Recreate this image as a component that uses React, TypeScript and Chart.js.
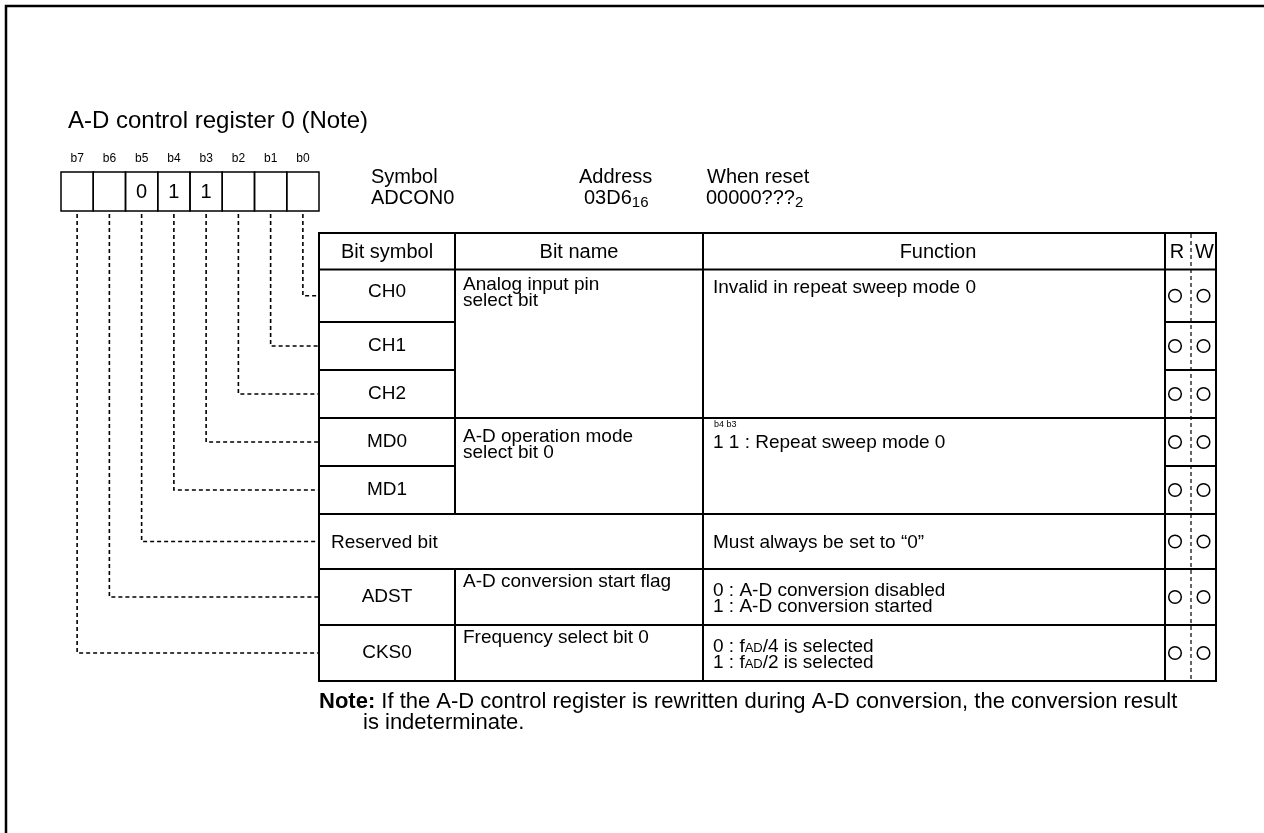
import React, { useEffect, useRef } from 'react';
import { Chart, registerables } from 'chart.js';

Chart.register(...registerables);

const W = 1264;
const H = 833;
const FONT = '"Liberation Sans", Arial, Helvetica, sans-serif';

// ---- data ----
const title = 'A-D control register 0 (Note)';
const bitLabels = ['b7', 'b6', 'b5', 'b4', 'b3', 'b2', 'b1', 'b0'];
const bitValues = ['', '', '0', '1', '1', '', '', ''];
const infoLabels = ['Symbol', 'Address', 'When reset'];
const infoValues = ['ADCON0', '03D6{16}', '00000???{2}'];
const headers = ['Bit symbol', 'Bit name', 'Function', 'R', 'W'];
const rowSymbols = ['CH0', 'CH1', 'CH2', 'MD0', 'MD1', 'Reserved bit', 'ADST', 'CKS0'];
const rowBox = [7, 6, 5, 4, 3, 2, 1, 0]; // which register box feeds each row
const readable = [1, 1, 1, 1, 1, 1, 1, 1];
const writable = [1, 1, 1, 1, 1, 1, 1, 1];
const nameGroups = [0, 0, 0, 1, 1, 2, 3, 4];
const funcGroups = [0, 0, 0, 1, 1, 2, 3, 4];
const bitNames = [
  ['Analog input pin', 'select bit'],
  ['A-D operation mode', 'select bit 0'],
  [],
  ['A-D conversion start flag'],
  ['Frequency select bit 0'],
];
const funcNotes = ['', 'b4 b3', '', '', ''];
const functions = [
  ['Invalid in repeat sweep mode 0'],
  ['1 1 : Repeat sweep mode 0'],
  ['Must always be set to \u201C0\u201D'],
  ['0 : A-D conversion disabled', '1 : A-D conversion started'],
  ['0 : f{AD}/4 is selected', '1 : f{AD}/2 is selected'],
];
const noteLabel = 'Note:';
const noteLines = ['If the A-D control register is rewritten during A-D conversion, the conversion result', 'is indeterminate.'];

// layout grid (in scale units)
const rowEdges = [233, 269.5, 322, 370, 418, 466, 514, 569, 625, 681];
const colEdges = [319, 455, 703, 1165, 1191, 1216];
const regX = [61, 319];
const regY = [172, 211];

const BODY = 19;
const GAP = 16;

const boxCenter = (i: number) => regX[0] + ((regX[1] - regX[0]) / 8) * (i + 0.5);
const rowMid = (i: number) => (rowEdges[i + 1] + rowEdges[i + 2]) / 2;

function drawRich(ctx: CanvasRenderingContext2D, s: string, x: number, y: number, size: number, small: number, drop: number) {
  const parts = s.split(/\{([^}]*)\}/);
  const base = y + size * 0.35;
  ctx.textAlign = 'left';
  ctx.textBaseline = 'alphabetic';
  let cx = x;
  parts.forEach((p, idx) => {
    if (!p) return;
    const isSmall = idx % 2 === 1;
    ctx.font = `${isSmall ? small : size}px ${FONT}`;
    ctx.fillText(p, cx, base + (isSmall ? drop : 0));
    cx += ctx.measureText(p).width;
  });
}

function txt(ctx: CanvasRenderingContext2D, s: string, x: number, y: number, size: number, align: CanvasTextAlign = 'left', weight = 'normal') {
  ctx.font = `${weight} ${size}px ${FONT}`;
  ctx.textAlign = align;
  ctx.textBaseline = 'middle';
  ctx.fillText(s, x, y);
}

const diagramPlugin = {
  id: 'diagram',
  beforeDatasetsDraw(chart: any) {
    const ctx: CanvasRenderingContext2D = chart.ctx;
    const sx = (v: number) => chart.scales.x.getPixelForValue(v);
    const sy = (v: number) => chart.scales.y.getPixelForValue(v);
    ctx.save();
    ctx.fillStyle = '#fff';
    ctx.fillRect(0, 0, chart.width, chart.height);
    ctx.strokeStyle = '#000';
    ctx.lineCap = 'square';

    // page frame
    ctx.lineWidth = 2.5;
    ctx.beginPath();
    ctx.moveTo(sx(6), sy(H + 10));
    ctx.lineTo(sx(6), sy(6));
    ctx.lineTo(sx(W + 10), sy(6));
    ctx.stroke();

    // register boxes
    ctx.lineWidth = 1.5;
    const bw = (regX[1] - regX[0]) / 8;
    for (let i = 0; i < 8; i++) {
      ctx.strokeRect(sx(regX[0] + i * bw), sy(regY[0]), sx(regX[0] + (i + 1) * bw) - sx(regX[0] + i * bw), sy(regY[1]) - sy(regY[0]));
    }

    // table lines
    ctx.lineWidth = 2;
    const h = (x1: number, x2: number, y: number) => { ctx.beginPath(); ctx.moveTo(sx(x1), sy(y)); ctx.lineTo(sx(x2), sy(y)); ctx.stroke(); };
    const v = (x: number, y1: number, y2: number) => { ctx.beginPath(); ctx.moveTo(sx(x), sy(y1)); ctx.lineTo(sx(x), sy(y2)); ctx.stroke(); };
    const L = colEdges[0], R = colEdges[5];
    h(L, R, rowEdges[0]);
    h(L, R, rowEdges[1]);
    h(L, R, rowEdges[9]);
    for (let k = 1; k < 8; k++) {
      const y = rowEdges[k + 1];
      h(colEdges[0], colEdges[1], y);
      if (nameGroups[k] !== nameGroups[k - 1]) h(colEdges[1], colEdges[2], y);
      if (funcGroups[k] !== funcGroups[k - 1]) h(colEdges[2], colEdges[3], y);
      h(colEdges[3], colEdges[5], y);
    }
    v(L, rowEdges[0], rowEdges[9]);
    v(R, rowEdges[0], rowEdges[9]);
    v(colEdges[1], rowEdges[0], rowEdges[6]);
    v(colEdges[1], rowEdges[7], rowEdges[9]);
    v(colEdges[2], rowEdges[0], rowEdges[9]);
    v(colEdges[3], rowEdges[0], rowEdges[9]);
    ctx.lineWidth = 1.2;
    ctx.lineCap = 'butt';
    ctx.setLineDash([4, 3]);
    v(colEdges[4], rowEdges[0] + 1, rowEdges[9] - 1);
    ctx.setLineDash([]);
    ctx.restore();
  },
  afterDatasetsDraw(chart: any) {
    const ctx: CanvasRenderingContext2D = chart.ctx;
    const sx = (v: number) => chart.scales.x.getPixelForValue(v);
    const sy = (v: number) => chart.scales.y.getPixelForValue(v);
    ctx.save();
    ctx.fillStyle = '#000';

    txt(ctx, title, sx(68), sy(121), 24);

    for (let i = 0; i < 8; i++) {
      txt(ctx, bitLabels[i], sx(boxCenter(i)), sy(159), 12, 'center');
      if (bitValues[i]) txt(ctx, bitValues[i], sx(boxCenter(i)), sy(192), 20, 'center');
    }

    const infoX = [371, 579, 707];
    const infoVX = [371, 584, 706];
    for (let i = 0; i < 3; i++) {
      txt(ctx, infoLabels[i], sx(infoX[i]), sy(177), 20);
      drawRich(ctx, infoValues[i], sx(infoVX[i]), sy(197), 20, 15, 3);
    }

    // headers
    const hy = (rowEdges[0] + rowEdges[1]) / 2 + 1;
    const hx = [
      (colEdges[0] + colEdges[1]) / 2,
      (colEdges[1] + colEdges[2]) / 2,
      (colEdges[2] + colEdges[3]) / 2 + 4,
      (colEdges[3] + colEdges[4]) / 2 - 1,
      (colEdges[4] + colEdges[5]) / 2 + 1,
    ];
    headers.forEach((t, i) => txt(ctx, t, sx(hx[i]), sy(hy), 20, 'center'));

    // bit symbols
    rowSymbols.forEach((s, i) => {
      const y = rowMid(i) - (i === 0 ? 4 : 0);
      if (nameGroups[i] === 2 && bitNames[2].length === 0) {
        txt(ctx, s, sx(331), sy(rowMid(i) + 1), BODY, 'left');
      } else {
        txt(ctx, s, sx((colEdges[0] + colEdges[1]) / 2), sy(y), BODY, 'center');
      }
    });

    const groupRows = (groups: number[], g: number) => groups.map((gg, i) => (gg === g ? i : -1)).filter((i) => i >= 0);

    // function column
    functions.forEach((lines, g) => {
      const rows = groupRows(funcGroups, g);
      let y0: number;
      if (rows.length > 1) {
        y0 = rowMid(rows[0]) - 9;
      } else {
        y0 = rowMid(rows[0]) - ((lines.length - 1) * GAP) / 2;
      }
      if (funcNotes[g]) {
        txt(ctx, funcNotes[g], sx(714), sy(rowEdges[rows[0] + 1] + 7), 9);
        y0 = rowMid(rows[0]) - 1;
      }
      lines.forEach((l, j) => drawRich(ctx, l, sx(713), sy(y0 + j * GAP), BODY, 13, 0));
    });

    // bit name column
    bitNames.forEach((lines, g) => {
      const rows = groupRows(nameGroups, g);
      const y0 = rows.length > 1 ? rowMid(rows[0]) - (g === 0 ? 11 : 5) : rowEdges[rows[0] + 1] + 13;
      lines.forEach((l, j) => txt(ctx, l, sx(463), sy(y0 + j * GAP), BODY));
    });

    // note
    txt(ctx, noteLabel, sx(319), sy(702), 22, 'left', 'bold');
    ctx.font = `bold 22px ${FONT}`;
    const nw = ctx.measureText(noteLabel + ' ').width;
    txt(ctx, noteLines[0], sx(319) + nw, sy(702), 22);
    txt(ctx, noteLines[1], sx(363), sy(723), 22);

    ctx.restore();
  },
};

export default function App() {
  const ref = useRef<HTMLCanvasElement | null>(null);
  useEffect(() => {
    document.body.style.margin = '0';
    document.body.style.overflow = 'hidden';
    const canvas = ref.current;
    if (!canvas) return;

    const connectorSets = rowSymbols.map((_, i) => {
      const bx = boxCenter(rowBox[i]);
      const my = rowMid(i);
      return {
        type: 'line' as const,
        data: [
          { x: bx, y: regY[1] + 3 },
          { x: bx, y: my },
          { x: colEdges[0] - 1, y: my },
        ],
        showLine: true,
        borderColor: '#000',
        borderWidth: 1.6,
        borderDash: [4, 3],
        pointRadius: 0,
        fill: false,
        tension: 0,
        clip: false as any,
      };
    });

    const rX = colEdges[3] + 10;
    const wX = colEdges[4] + 12.5;
    const circles: { x: number; y: number }[] = [];
    rowSymbols.forEach((_, i) => {
      if (readable[i]) circles.push({ x: rX, y: rowMid(i) });
      if (writable[i]) circles.push({ x: wX, y: rowMid(i) });
    });

    const chart = new Chart(canvas, {
      type: 'scatter',
      data: {
        datasets: [
          ...connectorSets,
          {
            type: 'scatter' as const,
            data: circles,
            pointStyle: 'circle',
            pointRadius: 6.3,
            pointBorderWidth: 1.5,
            borderColor: '#000',
            backgroundColor: 'rgba(0,0,0,0)',
            clip: false as any,
          },
        ] as any,
      },
      options: {
        animation: false,
        responsive: false,
        devicePixelRatio: 1,
        events: [],
        layout: { padding: 0, autoPadding: false },
        plugins: { legend: { display: false }, tooltip: { enabled: false } },
        scales: {
          x: { type: 'linear', min: 0, max: W, display: false },
          y: { type: 'linear', min: 0, max: H, reverse: true, display: false },
        },
      },
      plugins: [diagramPlugin],
    });
    return () => chart.destroy();
  }, []);

  return (
    <canvas
      ref={ref}
      width={W}
      height={H}
      style={{ position: 'absolute', left: 0, top: 0, width: W, height: H, display: 'block' }}
    />
  );
}
